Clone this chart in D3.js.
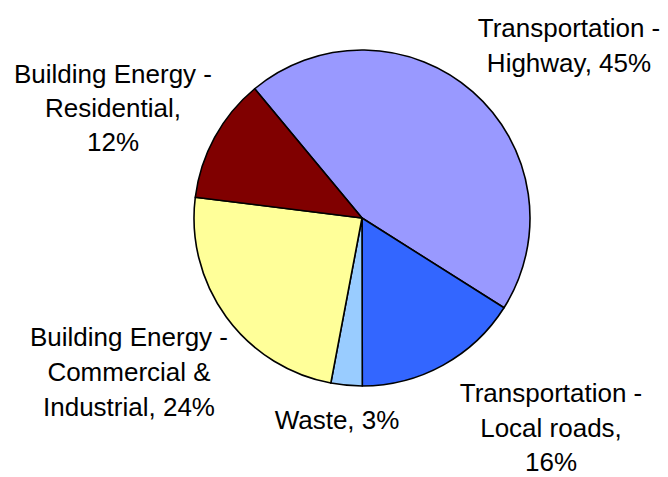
<!DOCTYPE html>
<html>
<head>
<meta charset="utf-8">
<script src="https://cdn.jsdelivr.net/npm/d3@7"></script>
<style>
  html, body { margin: 0; padding: 0; background: #ffffff; overflow: hidden; }
  svg { display: block; }
</style>
</head>
<body>
<script>
// ---- data ----
const categories = [
  "Transportation - Highway",
  "Transportation - Local roads",
  "Waste",
  "Building Energy - Commercial & Industrial",
  "Building Energy - Residential"
];
const values = [45, 16, 3, 24, 12];
const labelLines = [
  ["Transportation -", "Highway, 45%"],
  ["Transportation -", "Local roads,", "16%"],
  ["Waste, 3%"],
  ["Building Energy -", "Commercial &", "Industrial, 24%"],
  ["Building Energy -", "Residential,", "12%"]
];
const colors = ["#9999FF", "#3366FF", "#99CCFF", "#FFFF99", "#800000"];

// ---- layout (not data) ----
const W = 668, H = 477;
const cx = 362, cy = 218, R = 168;
const startDeg = -39.7;
const labelAnchors = [ // center x, first baseline, line spacing
  [569, 37, 35],
  [551, 402, 34.5],
  [337, 429, 35],
  [129, 346, 35],
  [113, 83, 34]
];

const svg = d3.select("body").append("svg")
  .attr("width", W).attr("height", H);

const pie = d3.pie().sort(null).value(d => d)
  .startAngle(startDeg * Math.PI / 180)
  .endAngle(startDeg * Math.PI / 180 + 2 * Math.PI);
const arc = d3.arc().innerRadius(0).outerRadius(R);

const g = svg.append("g").attr("transform", `translate(${cx},${cy})`);
g.selectAll("path").data(pie(values)).join("path")
  .attr("d", arc)
  .attr("fill", (d, i) => colors[i])
  .attr("stroke", "#000")
  .attr("stroke-width", 1.6)
  .attr("stroke-linejoin", "round");

const labels = svg.append("g")
  .attr("font-family", "Arial, 'Liberation Sans', sans-serif")
  .attr("font-size", 26)
  .attr("fill", "#000")
  .attr("text-anchor", "middle");

labelLines.forEach((lines, i) => {
  const [x, y0, lh] = labelAnchors[i];
  const t = labels.append("text").attr("x", x).attr("y", y0);
  lines.forEach((ln, j) => {
    t.append("tspan")
      .attr("x", x)
      .attr("y", y0 + j * lh)
      .text(ln);
  });
});
</script>
</body>
</html>
